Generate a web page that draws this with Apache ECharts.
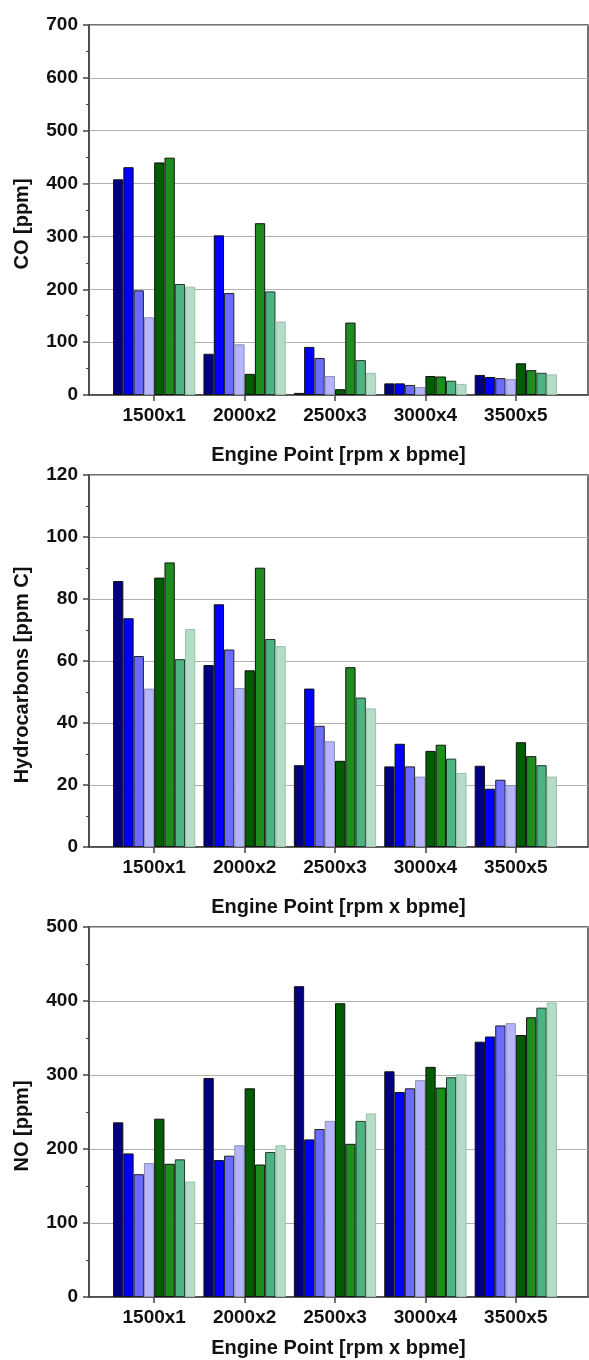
<!DOCTYPE html>
<html>
<head>
<meta charset="utf-8">
<script src="https://cdn.jsdelivr.net/npm/echarts@6/dist/echarts.min.js"></script>
<style>
html,body{margin:0;padding:0;background:#fff;}
#chart{width:589px;height:1360px;}
</style>
</head>
<body>
<div id="chart"></div>
<script>
// ---- data ----
const categories = ['1500x1', '2000x2', '2500x3', '3000x4', '3500x5'];

// CO [ppm]
const co1 = [408, 78, 4, 22, 38];
const co2 = [431, 302, 91, 22, 34];
const co3 = [198, 193, 70, 19, 32];
const co4 = [147, 96, 36, 15, 30];
const co5 = [440, 40, 11, 36, 60];
const co6 = [449, 325, 137, 35, 47];
const co7 = [210, 196, 66, 27, 42];
const co8 = [205, 139, 42, 21, 39];

// Hydrocarbons [ppm C]
const hc1 = [85.8, 58.7, 26.4, 26.0, 26.2];
const hc2 = [73.8, 78.3, 51.1, 33.3, 18.8];
const hc3 = [61.6, 63.7, 39.1, 26.0, 21.7];
const hc4 = [51.1, 51.3, 34.1, 22.7, 20.0];
const hc5 = [86.9, 57.0, 27.8, 31.0, 33.8];
const hc6 = [91.8, 90.1, 58.0, 33.0, 29.3];
const hc7 = [60.6, 67.1, 48.2, 28.5, 26.4];
const hc8 = [70.3, 64.8, 44.7, 23.9, 22.7];

// NO [ppm]
const no1 = [236, 296, 420, 305, 345];
const no2 = [194, 185, 213, 277, 352];
const no3 = [166, 191, 227, 282, 367];
const no4 = [181, 205, 238, 293, 370];
const no5 = [241, 282, 397, 311, 354];
const no6 = [180, 179, 207, 283, 378];
const no7 = [186, 196, 238, 297, 391];
const no8 = [156, 205, 248, 301, 398];

const panelTitles = ['CO [ppm]', 'Hydrocarbons [ppm C]', 'NO [ppm]'];
const xTitle = 'Engine Point [rpm x bpme]';
const yMax = [700, 120, 500];
const yInterval = [100, 20, 100];

const panels = [
  [co1, co2, co3, co4, co5, co6, co7, co8],
  [hc1, hc2, hc3, hc4, hc5, hc6, hc7, hc8],
  [no1, no2, no3, no4, no5, no6, no7, no8]
];

// ---- styling ----
const fills = ['#000080', '#0000ff', '#6b6bff', '#b5b5ff', '#005c00', '#1e8c1e', '#4db382', '#b3ddc7'];
const strokes = ['#111', '#111', '#222', '#8f8fb0', '#111', '#111', '#1f3a2a', '#9abfac'];
const FONT = '"Liberation Sans", Arial, sans-serif';
const tops = [25, 475, 927];
const heights = [370, 372, 370];
const nameGaps = [50, 50, 41];

const grid = [], xAxis = [], yAxis = [], series = [];
for (let p = 0; p < 3; p++) {
  // frame grid
  grid.push({left: 89, width: 499, top: tops[p], height: heights[p], show: true,
    borderColor: '#444', borderWidth: 1.5, backgroundColor: 'transparent'});
  // bar grid
  grid.push({left: 109, width: 452, top: tops[p], height: heights[p]});
  const gf = 2 * p, gb = 2 * p + 1;
  xAxis.push({gridIndex: gf, type: 'value', min: 0, max: 1,
    axisLine: {show: true, lineStyle: {color: '#444', width: 1.5}},
    axisTick: {show: false}, axisLabel: {show: false}, splitLine: {show: false},
    name: xTitle, nameLocation: 'middle', nameGap: nameGaps[p],
    nameTextStyle: {fontFamily: FONT, fontWeight: 'bold', fontSize: 20, color: '#111'}});
  xAxis.push({gridIndex: gb, type: 'category', data: categories,
    axisLine: {show: false},
    axisTick: {show: true, alignWithLabel: true, length: 6, lineStyle: {color: '#444', width: 1.5}},
    axisLabel: {fontFamily: FONT, fontWeight: 'bold', fontSize: 19, color: '#111', margin: 11},
    splitLine: {show: false}});
  yAxis.push({gridIndex: gf, type: 'value', min: 0, max: yMax[p], interval: yInterval[p],
    axisLine: {show: true, lineStyle: {color: '#444', width: 1.5}},
    axisTick: {show: true, length: 6, lineStyle: {color: '#444', width: 1.5}},
    minorTick: {show: true, splitNumber: 2, length: 3, lineStyle: {color: '#444', width: 1}},
    axisLabel: {fontFamily: FONT, fontWeight: 'bold', fontSize: 19, color: '#111', margin: 11},
    splitLine: {show: true, lineStyle: {color: '#b0b0b0', width: 1.2}},
    name: panelTitles[p], nameLocation: 'middle', nameRotate: 90, nameGap: 57,
    nameTextStyle: {fontFamily: FONT, fontWeight: 'bold', fontSize: 20, color: '#111', padding: [0, 28, 0, 0]}});
  yAxis.push({gridIndex: gb, type: 'value', min: 0, max: yMax[p], interval: yInterval[p], show: false,
    splitLine: {show: false}});
  panels[p].forEach((vals, i) => {
    series.push({type: 'bar', name: 'S' + (i + 1), xAxisIndex: gb, yAxisIndex: gb, data: vals,
      barGap: '0%', barCategoryGap: '9%', z: 3,
      itemStyle: {color: fills[i], borderColor: strokes[i], borderWidth: 1},
      animation: false});
  });
}

const chart = echarts.init(document.getElementById('chart'), null, {renderer: 'canvas'});
chart.setOption({backgroundColor: '#fff', animation: false, grid, xAxis, yAxis, series});
</script>
</body>
</html>
